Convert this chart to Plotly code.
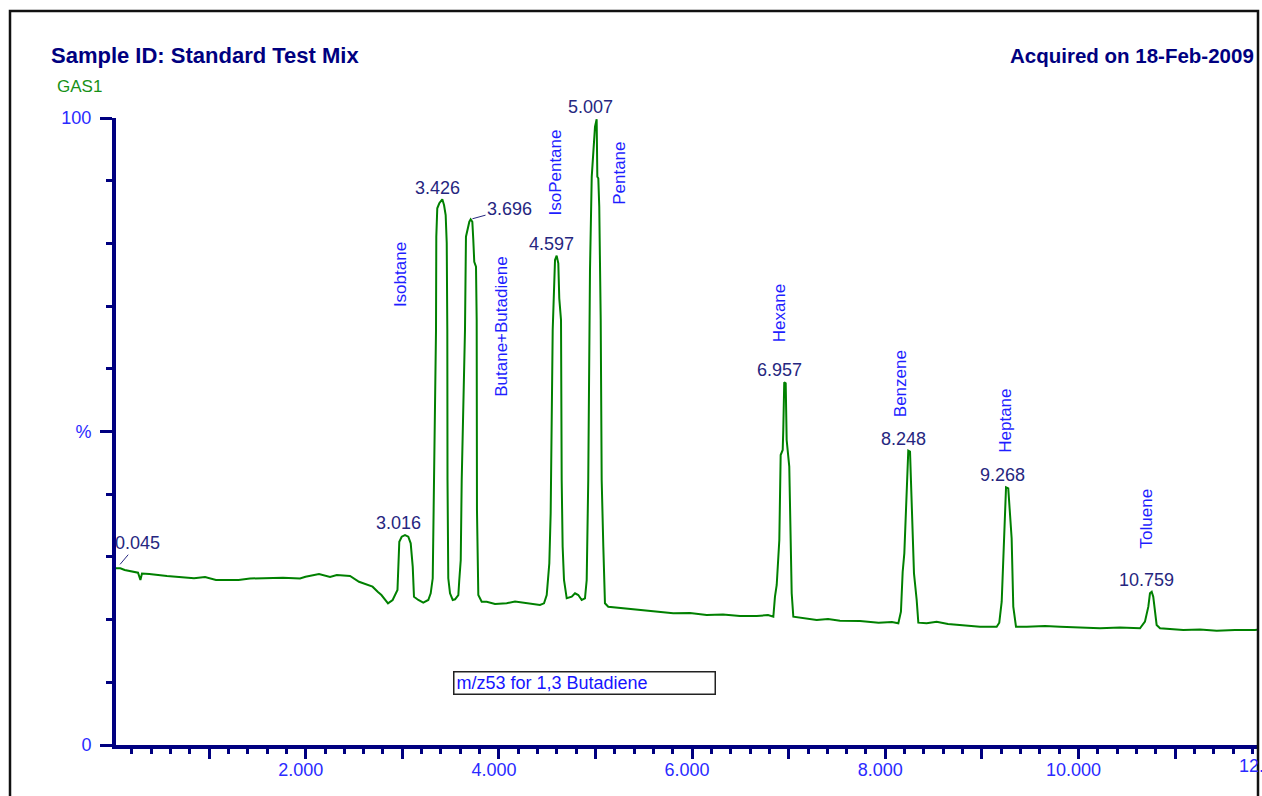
import plotly.graph_objects as go

# ---------------- data ----------------
rt_min = [0.021, 0.081, 0.126, 0.212, 0.264, 0.289, 0.305, 0.381, 0.564, 0.844,
          0.958, 1.071, 1.305, 1.423, 1.537, 1.765, 1.941, 1.998, 2.138, 2.252,
          2.322, 2.459, 2.552, 2.624, 2.692, 2.748, 2.784, 2.852, 2.900, 2.950,
          2.969, 2.994, 3.028, 3.062, 3.087, 3.108, 3.121, 3.166, 3.217, 3.269,
          3.294, 3.315, 3.328, 3.349, 3.352, 3.362, 3.383, 3.414, 3.432, 3.449,
          3.460, 3.466, 3.468, 3.476, 3.494, 3.522, 3.546, 3.580, 3.590, 3.605,
          3.615, 3.649, 3.659, 3.673, 3.694, 3.708, 3.725, 3.735, 3.745, 3.763,
          3.770, 3.773, 3.787, 3.822, 3.874, 3.960, 4.081, 4.167, 4.253, 4.343,
          4.425, 4.467, 4.495, 4.522, 4.536, 4.557, 4.570, 4.581, 4.598, 4.615,
          4.625, 4.643, 4.650, 4.660, 4.674, 4.702, 4.754, 4.788, 4.822, 4.857,
          4.891, 4.909, 4.925, 4.936, 4.943, 4.961, 4.977, 4.995, 5.012, 5.019,
          5.029, 5.039, 5.054, 5.064, 5.081, 5.098, 5.132, 5.288, 5.461, 5.634,
          5.805, 5.978, 6.151, 6.320, 6.496, 6.669, 6.786, 6.841, 6.858, 6.876,
          6.903, 6.917, 6.938, 6.944, 6.954, 6.969, 6.979, 7.006, 7.021, 7.031,
          7.048, 7.186, 7.290, 7.407, 7.531, 7.738, 7.931, 8.069, 8.135, 8.162,
          8.180, 8.197, 8.214, 8.238, 8.256, 8.273, 8.297, 8.325, 8.342, 8.428,
          8.532, 8.649, 8.773, 8.980, 9.153, 9.180, 9.205, 9.232, 9.250, 9.273,
          9.291, 9.308, 9.325, 9.353, 9.464, 9.653, 9.809, 10.016, 10.223, 10.430,
          10.637, 10.688, 10.723, 10.740, 10.758, 10.774, 10.792, 10.809, 10.844, 11.085,
          11.258, 11.431, 11.620, 11.827, 11.900]

abundance_pct = [28.18, 28.18, 27.91, 27.67, 27.48, 26.32, 27.35, 27.27, 26.95, 26.59,
                 26.79, 26.32, 26.32, 26.56, 26.59, 26.68, 26.56, 26.84, 27.27, 26.79,
                 27.11, 26.95, 26.04, 25.68, 25.25, 24.40, 23.92, 22.60, 23.13, 24.72,
                 32.42, 33.22, 33.49, 33.22, 32.17, 28.44, 23.65, 23.13, 22.70, 23.13,
                 24.19, 26.59, 42.26, 66.19, 81.07, 85.60, 86.40, 87.03, 86.12, 84.53,
                 80.02, 66.19, 42.26, 26.59, 24.19, 23.13, 23.24, 23.92, 26.32, 29.51,
                 42.26, 66.19, 81.07, 82.14, 83.46, 83.84, 83.46, 80.54, 77.08, 76.28,
                 67.78, 37.48, 23.92, 22.85, 22.85, 22.49, 22.60, 22.89, 22.70, 22.41,
                 22.33, 22.60, 23.92, 28.98, 36.95, 66.19, 73.64, 77.35, 78.04, 76.83,
                 71.24, 67.78, 42.26, 31.63, 26.32, 23.40, 23.65, 24.19, 23.92, 23.13,
                 23.40, 26.32, 42.26, 66.19, 75.76, 90.64, 93.83, 98.61, 99.79, 90.64,
                 90.38, 85.85, 67.78, 42.26, 31.63, 22.60, 22.06, 21.80, 21.53, 21.26,
                 21.00, 21.05, 20.73, 20.81, 20.57, 20.57, 20.73, 20.46, 23.65, 25.52,
                 32.70, 46.25, 47.05, 50.24, 57.85, 57.69, 48.64, 44.39, 34.29, 24.19,
                 20.46, 20.21, 19.94, 20.10, 19.82, 19.78, 19.51, 19.62, 19.41, 21.26,
                 27.64, 30.57, 38.55, 46.94, 46.78, 37.75, 27.38, 23.13, 19.51, 19.41,
                 19.67, 19.30, 19.14, 18.87, 18.87, 19.51, 22.85, 35.89, 41.10, 40.94,
                 35.89, 32.97, 22.06, 18.87, 18.87, 18.98, 18.87, 18.74, 18.61, 18.74,
                 18.61, 19.67, 22.06, 24.19, 24.45, 23.65, 21.53, 19.14, 18.61, 18.34,
                 18.42, 18.23, 18.34, 18.34, 18.50]

peak_rt = [0.045, 3.016, 3.426, 3.696, 4.597, 5.007, 6.957, 8.248, 9.268, 10.759]
peak_pct = [28.2, 33.5, 87.0, 83.8, 78.0, 99.8, 57.9, 46.9, 41.1, 24.4]

compounds = ["Isobtane", "Butane+Butadiene", "IsoPentane", "Pentane",
             "Hexane", "Benzene", "Heptane", "Toluene"]

x_tick_vals = [1, 2, 3, 4, 5, 6, 7, 8, 9, 10, 11]
x_tick_text = ["", "2.000", "", "4.000", "", "6.000", "", "8.000", "", "10.000", ""]
x_offscreen_tick = 12
x_offscreen_text = "12.000"
y_tick_vals = [0, 50, 100]
y_tick_text = ["0", "%", "100"]

# ---------------- layout constants ----------------
W, H = 1262, 796
L, R, T, B = 116, 1257, 118, 745
X0, X1 = 0.0362, 11.848
# compound label anchor positions (retention time, % height)
name_pos = [(2.976, 75.1), (4.032, 66.7), (4.591, 91.3), (5.254, 91.1),
            (6.903, 68.9), (8.152, 57.7), (9.249, 51.7), (10.703, 36.2)]

NAVY = "#000080"
AXIS_LBL = "#2a2aff"
RT_LBL = "#262680"
NAME_LBL = "#1e1eff"
GREEN = "#008000"
FONT = "Liberation Sans, Arial, sans-serif"


def pxx(px):
    return (px - L) / (R - L)


def pxy(py):
    return (B - py) / (B - T)


fig = go.Figure()
fig.add_trace(go.Scatter(x=rt_min, y=abundance_pct, mode="lines",
                         line=dict(color=GREEN, width=2), hoverinfo="skip",
                         showlegend=False))

ann = []
# retention-time labels
for rt, h in zip(peak_rt, peak_pct):
    txt = f"{rt:.3f}"
    if rt == 0.045:
        ann.append(dict(x=rt, y=h, xref="x", yref="y", text=txt, showarrow=True,
                        ax=21, ay=-25, arrowhead=0, arrowwidth=1, arrowcolor=RT_LBL,
                        standoff=5, font=dict(family=FONT, size=18, color=RT_LBL)))
    elif rt == 3.696:
        ann.append(dict(x=rt, y=h, xref="x", yref="y", text=txt, showarrow=True,
                        ax=40, ay=-11, arrowhead=0, arrowwidth=1, arrowcolor=RT_LBL,
                        standoff=3, font=dict(family=FONT, size=18, color=RT_LBL)))
    else:
        ann.append(dict(x=rt, y=h, xref="x", yref="y", text=txt, showarrow=False,
                        xanchor="center", yanchor="middle", xshift=-5.5, yshift=12,
                        font=dict(family=FONT, size=18, color=RT_LBL)))

# compound names (vertical)
for name, (t, p) in zip(compounds, name_pos):
    ann.append(dict(x=t, y=p, xref="x", yref="y", text=name, showarrow=False,
                    textangle=-90, xanchor="center", yanchor="middle",
                    font=dict(family=FONT, size=17, color=NAME_LBL)))

# header texts
ann.append(dict(x=pxx(49), y=pxy(55), xref="paper", yref="paper",
                text="Sample ID: Standard Test Mix", showarrow=False,
                xanchor="left", yanchor="middle",
                font=dict(family=FONT, size=22, color=NAVY, weight="bold")))
ann.append(dict(x=pxx(1008), y=pxy(55), xref="paper", yref="paper",
                text="Acquired on 18-Feb-2009", showarrow=False,
                xanchor="left", yanchor="middle",
                font=dict(family=FONT, size=20.5, color=NAVY, weight="bold")))
ann.append(dict(x=pxx(55), y=pxy(86), xref="paper", yref="paper",
                text="GAS1", showarrow=False, xanchor="left", yanchor="middle",
                font=dict(family=FONT, size=17, color="#179117")))
# boxed note
ann.append(dict(x=pxx(584.5), y=pxy(682.5), xref="paper", yref="paper",
                text="m/z53 for 1,3 Butadiene", showarrow=False,
                xanchor="center", yanchor="middle", align="left",
                width=256, height=17, borderpad=2, borderwidth=1.5,
                bordercolor="#222222", bgcolor="white",
                font=dict(family=FONT, size=18, color="#1515ff")))
# last x tick label, cut by the frame as in the source
ann.append(dict(x=(x_offscreen_tick - X0) / (X1 - X0), y=0, xref="paper", yref="paper",
                text=x_offscreen_text, showarrow=False, xanchor="center", yanchor="top",
                xshift=-5, yshift=-9,
                font=dict(family=FONT, size=18, color=AXIS_LBL)))

fig.update_layout(
    width=W, height=H,
    margin=dict(l=L, r=W - R, t=T, b=H - B, pad=0),
    paper_bgcolor="white", plot_bgcolor="white",
    showlegend=False,
    annotations=ann,
    shapes=[dict(type="rect", xref="paper", yref="paper",
                 x0=pxx(10), x1=pxx(1258), y0=pxy(840), y1=pxy(11),
                 line=dict(color="#111111", width=2.5), layer="above")],
    xaxis=dict(range=[X0, X1], showgrid=False, zeroline=False,
               showline=True, linecolor=NAVY, linewidth=3.5,
               ticks="outside", ticklen=10, tickwidth=2.5, tickcolor=NAVY,
               tickmode="array", tickvals=x_tick_vals, ticktext=x_tick_text,
               ticklabelshift=-5, ticklabelstandoff=-4,
               tickfont=dict(family=FONT, size=18, color=AXIS_LBL),
               minor=dict(dtick=0.2, tick0=0, ticks="outside", ticklen=5,
                          tickwidth=2.5, tickcolor=NAVY, showgrid=False)),
    yaxis=dict(range=[0, 100], showgrid=False, zeroline=False,
               showline=True, linecolor=NAVY, linewidth=4,
               ticks="outside", ticklen=12, tickwidth=2.5, tickcolor=NAVY,
               tickmode="array", tickvals=y_tick_vals, ticktext=y_tick_text,
               ticklabelstandoff=5,
               tickfont=dict(family=FONT, size=18, color=AXIS_LBL),
               minor=dict(dtick=10, tick0=0, ticks="outside", ticklen=6,
                          tickwidth=2.5, tickcolor=NAVY, showgrid=False)),
)

fig.write_html("out.html")
